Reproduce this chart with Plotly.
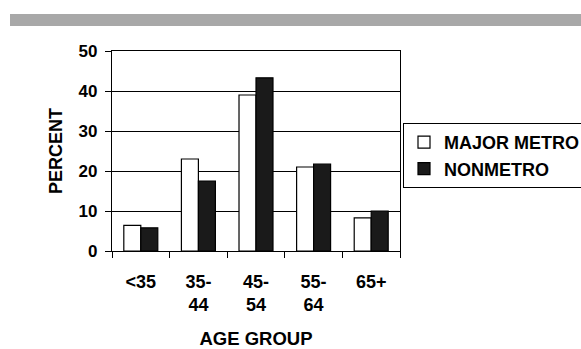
import plotly.graph_objects as go

categories = ["<35", "35-<br>44", "45-<br>54", "55-<br>64", "65+"]
major_metro = [6.4, 23.0, 39.0, 21.0, 8.3]
nonmetro = [5.8, 17.5, 43.3, 21.7, 10.0]
y_ticks = [0, 10, 20, 30, 40, 50]

FONT = "Arial, Liberation Sans, sans-serif"

fig = go.Figure()
fig.add_trace(go.Bar(x=categories, y=major_metro, name="MAJOR METRO",
                     marker=dict(color="white", line=dict(color="black", width=1.2))))
fig.add_trace(go.Bar(x=categories, y=nonmetro, name="NONMETRO",
                     marker=dict(color="#1a1a1a", line=dict(color="black", width=1.2))))

fig.update_layout(
    width=581, height=349,
    margin=dict(l=112, r=181, t=51, b=98, autoexpand=False),
    paper_bgcolor="white", plot_bgcolor="white",
    barmode="group", bargap=0.41, bargroupgap=0,
    font=dict(family=FONT, size=17, color="black"),
    showlegend=True,
    legend=dict(x=403/581, xanchor="left", y=1 - 123/349, yanchor="top",
                xref="container", yref="container",
                bgcolor="white", bordercolor="black", borderwidth=1,
                font=dict(family=FONT, size=18, color="black", weight="bold"),
                tracegroupgap=0, itemwidth=30),
    shapes=[dict(type="rect", xref="paper", yref="paper",
                 x0=(10 - 112) / 288, x1=(581 - 112) / 288,
                 y0=(251 - 14) / 200, y1=(251 - 26) / 200,
                 fillcolor="#a8a8a8", line=dict(width=0), layer="above")],
)

fig.update_xaxes(
    automargin=False,
    showline=True, linecolor="black", linewidth=1.2, mirror=True,
    ticks="outside", tickson="boundaries", ticklen=6, tickcolor="black",
    ticklabelstandoff=14,
    tickfont=dict(family=FONT, size=18, weight="bold"),
    title=dict(text="AGE GROUP", font=dict(family=FONT, size=18.5, weight="bold"), standoff=20),
    showgrid=False,
)
fig.update_yaxes(
    automargin=False,
    range=[0, 50], tickvals=y_ticks,
    showline=True, linecolor="black", linewidth=1.2, mirror=True,
    ticks="outside", ticklen=6, tickcolor="black",
    ticklabelstandoff=4,
    tickfont=dict(family=FONT, size=17, weight="bold"),
    showgrid=True, gridcolor="black", gridwidth=1,
    title=dict(text="PERCENT", font=dict(family=FONT, size=18, weight="bold"), standoff=11),
    zeroline=False,
)

fig.write_html("out.html", config={"displayModeBar": False},
               post_script="document.body.style.margin='0';document.body.style.padding='0';")
